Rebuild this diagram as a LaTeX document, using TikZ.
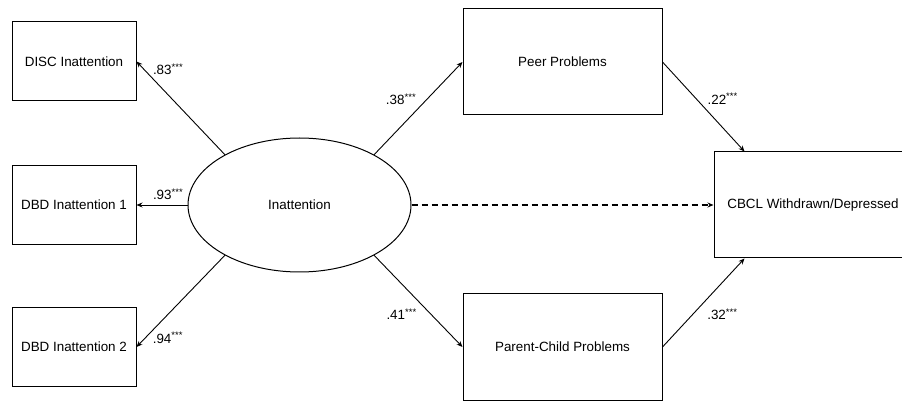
\documentclass[tikz,border=0pt]{standalone}
\usepackage{fontspec}
\setmainfont{Liberation Sans}
\usetikzlibrary{shapes.geometric,arrows.meta}
\newcommand{\coef}[1]{#1\raisebox{0.32em}{\fontsize{9.5}{9.5}\selectfont ***}}
\begin{document}
\begin{tikzpicture}[x=1pt,y=-1pt,
  box/.style={draw,line width=1pt,inner sep=0pt,font=\fontsize{13.4}{15}\selectfont},
  lat/.style={draw,ellipse,line width=1pt,minimum width=223pt,minimum height=134pt,inner sep=0pt,font=\fontsize{13.4}{15}\selectfont},
  path/.style={line width=0.9pt,-{Stealth[length=6pt,width=5pt]}},
  dpath/.style={path,line width=1.1pt,dash pattern=on 6pt off 4pt},
  lab/.style={inner sep=0pt,font=\fontsize{13.4}{15}\selectfont}]
\useasboundingbox (0,0) rectangle (902,403);
\node[box,minimum width=124pt,minimum height=79pt] (disc) at (74,61.5) {DISC Inattention};
\node[box,minimum width=124pt,minimum height=79pt] (dbd1) at (74,205) {DBD Inattention 1};
\node[box,minimum width=124pt,minimum height=79pt] (dbd2) at (74,347) {DBD Inattention 2};
\node[lat] (inat) at (299.5,205) {Inattention};
\node[box,minimum width=199pt,minimum height=106pt] (peer) at (562.5,62) {Peer Problems};
\node[box,minimum width=199pt,minimum height=106pt] (pc) at (562.5,347) {Parent-Child Problems};
\node[box,minimum width=198pt,minimum height=106pt] (cbcl) at (813,205) {CBCL Withdrawn/Depressed};
\draw[path] (inat.146) -- (disc.east) node[lab,pos=0.92,right=9pt] {\coef{.83}};
\draw[path] (inat.west) -- (dbd1.east) node[lab,pos=0.385,above=5pt] {\coef{.93}};
\draw[path] (inat.214) -- (dbd2.east) node[lab,pos=0.9,right=7pt] {\coef{.94}};
\draw[path] (inat.34) -- (peer.west) node[lab,pos=0.6,left=11pt] {\coef{.38}};
\draw[path] (inat.-34) -- (pc.west) node[lab,pos=0.64,left=14pt] {\coef{.41}};
\draw[dpath] (inat.east) -- (cbcl.west);
\draw[path] (peer.east) -- (cbcl.142) node[lab,pos=0.41,right=11pt] {\coef{.22}};
\draw[path] (pc.east) -- (cbcl.218) node[lab,pos=0.37,right=14pt] {\coef{.32}};
\end{tikzpicture}
\end{document}
